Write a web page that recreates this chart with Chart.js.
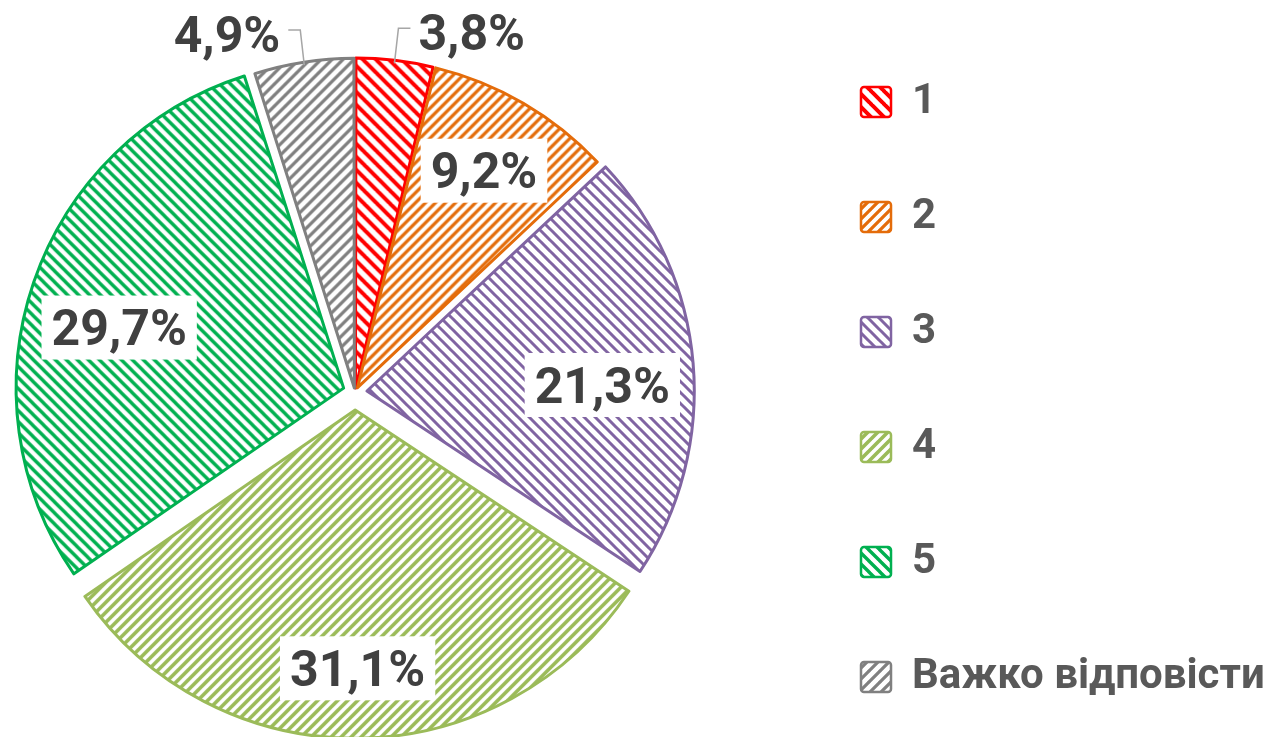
<!DOCTYPE html>
<html><head><meta charset="utf-8">
<script src="https://cdn.jsdelivr.net/npm/chart.js@4.4.1/dist/chart.umd.min.js"></script>
<style>html,body{margin:0;padding:0;background:#fff;}canvas{display:block;}</style>
</head><body>
<canvas id="c" width="1270" height="737"></canvas>
<script>
// ---- data ----
const categories = ['1', '2', '3', '4', '5', 'Важко відповісти'];
const shares = [3.8, 9.2, 21.3, 31.1, 29.7, 4.9];
const valueLabels = ['3,8%', '9,2%', '21,3%', '31,1%', '29,7%', '4,9%'];

// ---- styling ----
const sliceColors = ['#FF0000', '#E46C0A', '#8064A2', '#9BBB59', '#00B050', '#808080'];
const hatchDirections = ['\\', '/', '\\', '/', '\\', '/'];
const hatchSizes = [13, 10, 11, 10, 11, 11];
const hatchWidths = [4.0, 3.2, 3.0, 3.6, 3.4, 3.2];
const explodePx = [4, 5, 12, 18, 12, 4];
const labelModes = ['outside', 'inside', 'inside', 'inside', 'inside', 'outside'];
const labelRadius = [0, 0.768, 0.72, 0.79, 0.711, 0];
const labelTurnDeg = [0, 0, 3.4, 0, -3.8, 0];

const canvas = document.getElementById('c');
const mainCtx = canvas.getContext('2d');

function hatch(color, size, width, dir) {
  const c = document.createElement('canvas');
  c.width = size; c.height = size;
  const g = c.getContext('2d');
  g.fillStyle = '#ffffff';
  g.fillRect(0, 0, size, size);
  g.strokeStyle = color;
  g.lineWidth = width;
  g.beginPath();
  for (let k = -1; k <= 1; k++) {
    if (dir === '/') { g.moveTo(k * size - 1, size + 1); g.lineTo(k * size + size + 1, -1); }
    else { g.moveTo(k * size - 1, -1); g.lineTo(k * size + size + 1, size + 1); }
  }
  g.stroke();
  return mainCtx.createPattern(c, 'repeat');
}
const patterns = sliceColors.map((col, i) => hatch(col, hatchSizes[i], hatchWidths[i], hatchDirections[i]));

// ---- layout helpers ----
const legendFontSize = 42;
const legendBox = 30;
const legendPad = 10;
const mctx = document.createElement('canvas').getContext('2d');
mctx.font = 'bold ' + legendFontSize + 'px Roboto';
const maxTextW = Math.max(...categories.map(t => mctx.measureText(t).width));
const legendWidth = legendPad + legendBox + legendFontSize / 2 + maxTextW + 10;
const legendLeft = 851;
const pieCenterX = 355, pieCenterY = 392;
const padRight = 1270 - legendLeft - legendWidth;
const padBottom = 737 - 2 * pieCenterY;

// place the pie's frame so that its centre sits where the reference has it
const pieFrame = {
  id: 'pieFrame',
  afterLayout(chart) {
    const a = chart.chartArea;
    a.left = 2 * pieCenterX - a.right;
    a.top = 0;
    a.bottom = 2 * pieCenterY;
    a.width = a.right - a.left;
    a.height = a.bottom - a.top;
  }
};

const labelFontSize = 50;
const sliceLabels = {
  id: 'sliceLabels',
  afterDatasetsDraw(chart) {
    const ctx = chart.ctx;
    const meta = chart.getDatasetMeta(0);
    ctx.save();
    meta.data.forEach((arc, i) => {
      const p = arc.getProps(['x', 'y', 'startAngle', 'endAngle', 'outerRadius'], true);
      const off = (arc.options.offset || 0) / 4;
      const mid = (p.startAngle + p.endAngle) / 2;
      const circ = p.endAngle - p.startAngle;
      const bx = p.x + Math.cos(mid) * off, by = p.y + Math.sin(mid) * off;
      const text = valueLabels[i];
      ctx.font = 'bold ' + labelFontSize + 'px Roboto';
      const tw = ctx.measureText(text).width;
      const capH = labelFontSize * 0.711;
      if (labelModes[i] === 'inside') {
        const a = mid + labelTurnDeg[i] * Math.PI / 180;
        const r = p.outerRadius * labelRadius[i];
        const cx = bx + Math.cos(a) * r, cy = by + Math.sin(a) * r;
        ctx.fillStyle = '#ffffff';
        ctx.fillRect(cx - tw / 2 - 10, cy - 32, tw + 20, 64);
        ctx.fillStyle = '#404040';
        ctx.textAlign = 'center';
        ctx.textBaseline = 'alphabetic';
        ctx.fillText(text, cx, cy + capH / 2);
      } else {
        const rr = p.outerRadius + off * (1 - Math.sin(Math.min(Math.PI, circ))) - 3;
        const sx = bx + Math.cos(mid) * rr, sy = by + Math.sin(mid) * rr;
        const sgn = Math.cos(mid) >= 0 ? 1 : -1;
        const ex = sx + 4 * sgn, ey = sy - 35;
        const hx = ex + 12 * sgn;
        ctx.strokeStyle = '#A6A6A6';
        ctx.lineWidth = 1.5;
        ctx.beginPath(); ctx.moveTo(sx, sy); ctx.lineTo(ex, ey); ctx.lineTo(hx, ey); ctx.stroke();
        ctx.fillStyle = '#404040';
        ctx.textAlign = sgn > 0 ? 'left' : 'right';
        ctx.textBaseline = 'alphabetic';
        ctx.fillText(text, hx + 8 * sgn, ey + 4 + capH / 2);
      }
    });
    ctx.restore();
  }
};

new Chart(canvas, {
  type: 'pie',
  data: {
    labels: categories,
    datasets: [{
      data: shares,
      backgroundColor: patterns,
      borderColor: sliceColors,
      borderWidth: 3,
      borderJoinStyle: 'round',
      offset: explodePx.map(v => v * 4),
      hoverOffset: 0,
      radius: 327
    }]
  },
  options: {
    responsive: false,
    animation: false,
    events: [],
    layout: { padding: { left: 0, right: padRight, top: 0, bottom: padBottom } },
    plugins: {
      tooltip: { enabled: false },
      legend: {
        position: 'right',
        align: 'start',
        title: { display: true, text: ' ', color: 'rgba(0,0,0,0)', font: { size: 10, lineHeight: 1 }, padding: { top: 0, bottom: 61 } },
        labels: {
          boxWidth: legendBox,
          boxHeight: legendBox,
          padding: legendPad,
          color: '#595959',
          useBorderRadius: true,
          font: { family: 'Roboto', weight: 'bold', size: legendFontSize, lineHeight: 105 / legendFontSize },
          generateLabels(chart) {
            const base = Chart.overrides.pie.plugins.legend.labels.generateLabels(chart);
            return base.map(item => Object.assign({}, item, { text: [item.text], lineWidth: 2.5, borderRadius: 3 }));
          }
        }
      }
    }
  },
  plugins: [pieFrame, sliceLabels]
});
</script>
</body></html>
